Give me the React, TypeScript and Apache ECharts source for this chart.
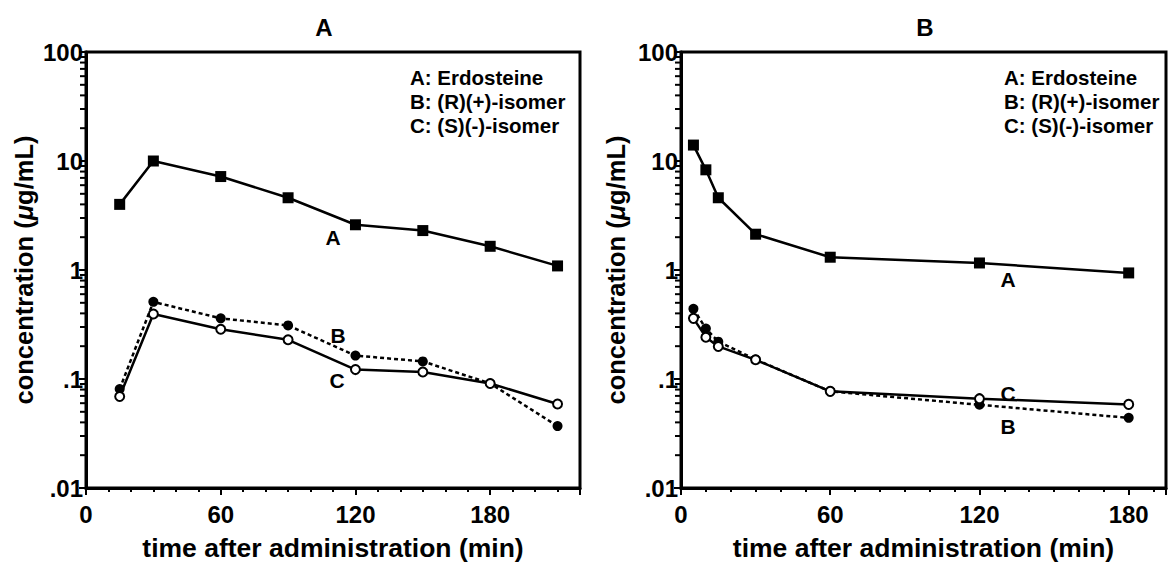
import React, { useEffect, useRef } from "react";
import * as echarts from "echarts";

// ---- data ----
const timesA = [15, 30, 60, 90, 120, 150, 180, 210];
const erdosteineA = [4.0, 10.0, 7.2, 4.6, 2.6, 2.3, 1.65, 1.09];
const rIsomerA = [0.081, 0.51, 0.36, 0.31, 0.164, 0.145, 0.091, 0.037];
const sIsomerA = [0.069, 0.395, 0.286, 0.229, 0.122, 0.116, 0.091, 0.059];

const timesB = [5, 10, 15, 30, 60, 120, 180];
const erdosteineB = [14.0, 8.3, 4.6, 2.13, 1.31, 1.16, 0.94];
const rIsomerB = [0.44, 0.29, 0.22, 0.151, 0.077, 0.058, 0.044];
const sIsomerB = [0.36, 0.242, 0.199, 0.15, 0.077, 0.066, 0.0585];

const yTickLabels = [".01", ".1", "1", "10", "100"];
const yMinorTicks = [
  0.02, 0.03, 0.04, 0.05, 0.06, 0.07, 0.08, 0.09,
  0.2, 0.3, 0.4, 0.5, 0.6, 0.7, 0.8, 0.9,
  2, 3, 4, 5, 6, 7, 8, 9,
  20, 30, 40, 50, 60, 70, 80, 90,
];
const legendLines = ["A: Erdosteine", "B: (R)(+)-isomer", "C: (S)(-)-isomer"];
const xTitle = "time after administration (min)";
const panelTitles = ["A", "B"];

const FONT = '"Liberation Sans", Arial, Helvetica, sans-serif';

function zip(t: number[], v: number[]) {
  return t.map((x, i) => [x, v[i]]);
}

export default function App() {
  const ref = useRef<HTMLDivElement>(null);
  useEffect(() => {
    if (!ref.current) return;
    const chart = echarts.init(ref.current, undefined, { renderer: "svg" });

    const grids = [
      { left: 86, top: 52, width: 494, height: 440, xMax: 220 },
      { left: 681, top: 52, width: 486, height: 440, xMax: 195 },
    ];

    const xAxes: any[] = [];
    const yAxes: any[] = [];
    grids.forEach((g, i) => {
      xAxes.push({
        gridIndex: i,
        type: "value",
        position: "bottom",
        min: 0,
        max: g.xMax,
        interval: 10,
        axisLine: { lineStyle: { color: "#000", width: 3 } },
        axisTick: { length: 4, lineStyle: { color: "#000", width: 2 } },
        axisLabel: { show: false },
        splitLine: { show: false },
      });
      xAxes.push({
        gridIndex: i,
        type: "value",
        position: "bottom",
        min: 0,
        max: g.xMax,
        interval: 60,
        axisLine: { show: false },
        axisTick: { length: 7, lineStyle: { color: "#000", width: 2 } },
        axisLabel: {
          formatter: (v: number) => (v % 60 === 0 ? String(v) : ""),
          fontSize: 24,
          fontWeight: "bold",
          fontFamily: FONT,
          color: "#000",
          margin: 14,
        },
        splitLine: { show: false },
        name: xTitle,
        nameLocation: "middle",
        nameGap: 46,
        nameTextStyle: { fontSize: 26.5, fontWeight: "bold", fontFamily: FONT, color: "#000" },
      });
      yAxes.push({
        gridIndex: i,
        type: "log",
        logBase: 10,
        min: 0.01,
        max: 100,
        axisLine: { lineStyle: { color: "#000", width: 3 } },
        axisTick: { length: 7, lineStyle: { color: "#000", width: 2 } },
        axisLabel: {
          formatter: (v: number) => yTickLabels[Math.round(Math.log10(v)) + 2],
          fontSize: 24,
          fontWeight: "bold",
          fontFamily: FONT,
          color: "#000",
          margin: 3,
          padding: [14, 0, 0, 0],
        },
        splitLine: { show: false },
        name: "{a|concentration (}{b|μ}{a|g/mL)}",
        nameLocation: "middle",
        nameGap: i === 0 ? 49 : 52,
        nameTextStyle: {
          rich: {
            a: { fontSize: 25.5, fontWeight: "bold", fontFamily: FONT, color: "#000" },
            b: { fontSize: 25.5, fontWeight: "bold", fontStyle: "italic", fontFamily: FONT, color: "#000" },
          },
        },
      });
    });

    const panelData = [
      { t: timesA, a: erdosteineA, r: rIsomerA, s: sIsomerA },
      { t: timesB, a: erdosteineB, r: rIsomerB, s: sIsomerB },
    ];

    const series: any[] = [];
    panelData.forEach((p, i) => {
      const xi = i * 2 + 1;
      series.push({
        type: "custom",
        xAxisIndex: xi,
        yAxisIndex: i,
        silent: true,
        clip: false,
        data: yMinorTicks.map((v) => [0, v]),
        renderItem: (params: any, api: any) => {
          const pt = api.coord([api.value(0), api.value(1)]);
          return {
            type: "line",
            shape: { x1: pt[0] - 6, y1: pt[1], x2: pt[0], y2: pt[1] },
            style: { stroke: "#000", lineWidth: 2 },
          };
        },
      });
      series.push({
        type: "line",
        xAxisIndex: xi,
        yAxisIndex: i,
        data: zip(p.t, p.a),
        symbol: "rect",
        symbolSize: 11,
        itemStyle: { color: "#000" },
        lineStyle: { color: "#000", width: 2.5 },
        z: 3,
      });
      series.push({
        type: "line",
        xAxisIndex: xi,
        yAxisIndex: i,
        data: zip(p.t, p.r),
        symbol: "circle",
        symbolSize: 10,
        itemStyle: { color: "#000" },
        lineStyle: { color: "#000", width: 2.5, type: [4, 3] },
        z: 3,
      });
      series.push({
        type: "line",
        xAxisIndex: xi,
        yAxisIndex: i,
        data: zip(p.t, p.s),
        symbol: "circle",
        symbolSize: 9,
        itemStyle: { color: "#fff", borderColor: "#000", borderWidth: 2 },
        lineStyle: { color: "#000", width: 2.5 },
        z: 4,
      });
    });

    const txt = (text: string, x: number, y: number, size: number, align = "center") => ({
      type: "text",
      x,
      y,
      style: {
        text,
        font: `bold ${size}px ${FONT}`,
        fill: "#000",
        align,
        verticalAlign: "middle",
      },
      z: 10,
    });

    const graphics: any[] = [
      txt(panelTitles[0], 324, 27, 24),
      txt(panelTitles[1], 925, 27, 24),
      ...legendLines.map((l, k) => txt(l, 410, 77 + k * 24, 20.5, "left")),
      ...legendLines.map((l, k) => txt(l, 1004, 77 + k * 24, 20.5, "left")),
      txt("A", 333, 237, 21),
      txt("B", 338, 335, 21),
      txt("C", 337, 380, 21),
      txt("A", 1008, 279, 21),
      txt("C", 1008, 393, 21),
      txt("B", 1008, 426, 21),
    ];

    chart.setOption({
      animation: false,
      backgroundColor: "#fff",
      grid: grids.map((g) => ({
        left: g.left,
        top: g.top,
        width: g.width,
        height: g.height,
        show: true,
        borderColor: "#000",
        borderWidth: 3,
        backgroundColor: "transparent",
      })),
      xAxis: xAxes,
      yAxis: yAxes,
      series,
      graphic: graphics,
    });
    return () => chart.dispose();
  }, []);
  return (
    <div
      ref={ref}
      style={{ position: "fixed", left: 0, top: 0, width: 1169, height: 566, background: "#fff" }}
    />
  );
}
